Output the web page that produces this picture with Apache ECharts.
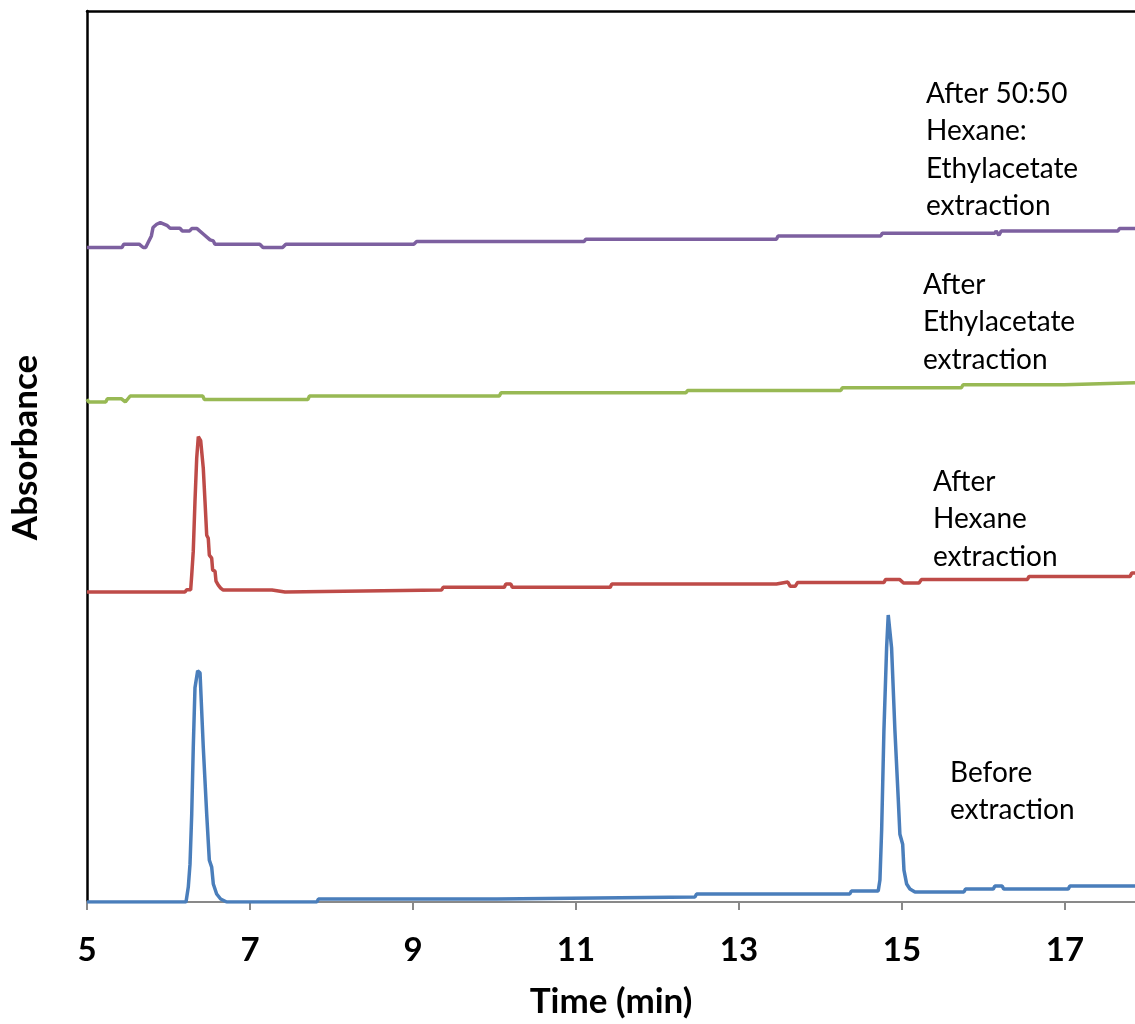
<!DOCTYPE html>
<html>
<head>
<meta charset="utf-8">
<script src="https://cdn.jsdelivr.net/npm/echarts@6/dist/echarts.min.js"></script>
<style>
html,body{margin:0;padding:0;background:#fff;}
#chart{width:1135px;height:1024px;}
</style>
</head>
<body>
<div id="chart"></div>
<script>
// Time axis ticks (min)
const xTicks = [5, 7, 9, 11, 13, 15, 17];

// Before extraction (blue)
const tBefore = [5, 6.215, 6.243, 6.264, 6.285, 6.304, 6.325, 6.358, 6.387, 6.427, 6.469, 6.501, 6.530, 6.550, 6.591, 6.640, 6.714, 7.82, 7.84, 10.03, 10.05, 12.46, 12.48, 14.36, 14.38, 14.709, 14.730, 14.751, 14.779, 14.812, 14.832, 14.853, 14.873, 14.914, 14.954, 14.975, 15.009, 15.025, 15.058, 15.098, 15.160, 15.76, 15.78, 16.12, 16.14, 16.23, 16.25, 17.04, 17.06, 17.86];
const aBefore = [0, 0, 15, 38, 88, 155, 215, 232, 230, 155, 88, 42, 35, 18, 8, 3, 0, 0, 3, 3, 5, 5, 8, 8, 11, 11, 22, 72, 172, 255, 288, 288, 255, 172, 105, 68, 58, 32, 18, 13, 10, 10, 13, 13, 16, 16, 13, 13, 16, 16];

// After Hexane extraction (red)
const tHexane = [5, 6.202, 6.223, 6.272, 6.285, 6.304, 6.325, 6.346, 6.366, 6.378, 6.395, 6.415, 6.427, 6.448, 6.469, 6.488, 6.501, 6.530, 6.542, 6.571, 6.583, 6.611, 6.640, 6.672, 7.27, 7.29, 7.43, 7.45, 9.35, 9.37, 10.12, 10.14, 10.20, 10.22, 11.42, 11.44, 13.46, 13.48, 13.60, 13.63, 13.69, 13.72, 14.78, 14.80, 14.97, 15.02, 15.21, 15.24, 16.54, 16.56, 17.80, 17.82, 17.86];
const aHexane = [311, 311, 313.3, 313.3, 328, 352, 402, 445, 467, 468, 463, 462, 435, 402, 368, 365, 348, 345, 333, 332, 322, 318, 315, 313, 313, 311, 311, 313, 313, 315.7, 315.7, 319, 319, 315.7, 315.7, 319, 319, 321, 321, 316.7, 316.7, 320.7, 320.7, 323.7, 323.7, 320, 320, 323.7, 323.7, 326.7, 326.7, 330, 330];

// After Ethylacetate extraction (green)
const tEthyl = [5, 5.02, 5.23, 5.25, 5.42, 5.47, 5.53, 6.42, 6.44, 7.71, 7.73, 10.06, 10.08, 12.35, 12.37, 14.25, 14.27, 15.73, 15.75, 16.99, 17.01, 17.86];
const aEthyl = [504.5, 501.7, 501.7, 505, 505, 501.7, 507.7, 507.7, 504.3, 504.3, 507.7, 507.7, 511, 511, 513.3, 513.3, 516, 516, 519, 519, 521, 521];

// After 50:50 Hexane:Ethylacetate extraction (purple)
const tMix = [5, 5.43, 5.45, 5.64, 5.69, 5.72, 5.75, 5.79, 5.81, 5.855, 5.90, 5.98, 6.02, 6.14, 6.17, 6.26, 6.285, 6.35, 6.43, 6.51, 6.55, 6.57, 7.12, 7.16, 7.40, 7.44, 9.01, 9.045, 11.10, 11.12, 13.46, 13.48, 14.74, 14.76, 16.14, 16.155, 16.19, 16.22, 17.65, 17.67, 17.86];
const aMix = [656.7, 656.7, 660, 660, 656.7, 656.7, 661.7, 668.3, 676.7, 680, 681.7, 679, 676, 676, 673.3, 673.3, 675.7, 675.7, 670, 664.3, 663.3, 660, 660, 656.7, 656.7, 660, 660, 662.7, 662.7, 665, 665, 668.3, 668.3, 671, 671, 673.3, 669, 673.3, 673.3, 675.7, 675.7];

const seriesNames = ['Before extraction', 'After Hexane extraction', 'After Ethylacetate extraction', 'After 50:50 Hexane:Ethylacetate extraction'];
const seriesColors = ['#4A7EBB', '#BE4B48', '#98B954', '#7D60A0'];
const labelTexts = ['Before\nextraction', 'After\nHexane\nextraction', 'After\nEthylacetate\nextraction', 'After 50:50\nHexane:\nEthylacetate\nextraction'];
const labelPos = [[950, 754], [933, 463], [923, 266], [926, 75]];

const zip = (t, a) => t.map((v, i) => [v, a[i]]);
const dataSets = [zip(tBefore, aBefore), zip(tHexane, aHexane), zip(tEthyl, aEthyl), zip(tMix, aMix)];

const chart = echarts.init(document.getElementById('chart'));
chart.setOption({
  animation: false,
  backgroundColor: '#fff',
  grid: {left: 86, top: 11, right: 0, bottom: 119, containLabel: false},
  xAxis: [{
    type: 'value', min: 5, max: 17.86, position: 'bottom',
    name: 'Time (min)', nameLocation: 'middle', nameGap: 82,
    nameTextStyle: {fontFamily: 'Lato', fontWeight: 'bold', fontSize: 35, color: '#000'},
    axisLine: {show: true, onZero: false, lineStyle: {color: '#898989', width: 2}},
    axisTick: {show: true, customValues: xTicks, length: 8, lineStyle: {color: '#898989', width: 2}},
    axisLabel: {show: true, customValues: xTicks, margin: 32, fontFamily: 'Lato', fontWeight: 'bold', fontSize: 33, color: '#000'},
    splitLine: {show: false}
  }, {
    type: 'value', min: 5, max: 17.86, position: 'top',
    axisLine: {show: true, onZero: false, lineStyle: {color: '#000', width: 2.5}},
    axisTick: {show: false}, axisLabel: {show: false}, splitLine: {show: false}
  }],
  yAxis: {
    type: 'value', min: 0, max: 894,
    name: 'Absorbance', nameLocation: 'middle', nameGap: 44,
    nameTextStyle: {fontFamily: 'Lato', fontWeight: 'bold', fontSize: 35, color: '#000', padding: [0, 0, 0, 18]},
    axisLine: {show: true, onZero: false, lineStyle: {color: '#000', width: 2.5}},
    axisTick: {show: false}, axisLabel: {show: false}, splitLine: {show: false}
  },
  series: dataSets.map((d, i) => ({
    name: seriesNames[i], type: 'line', data: d, showSymbol: false, symbol: 'none',
    lineStyle: {color: seriesColors[i], width: 3.5}, itemStyle: {color: seriesColors[i]},
    z: 3
  })),
  graphic: labelTexts.map((txt, i) => ({
    type: 'text', left: labelPos[i][0], top: labelPos[i][1], z: 10,
    style: {text: txt, fontFamily: 'Lato', fontSize: 28, lineHeight: 37.5, fill: '#000'}
  }))
});
</script>
</body>
</html>
